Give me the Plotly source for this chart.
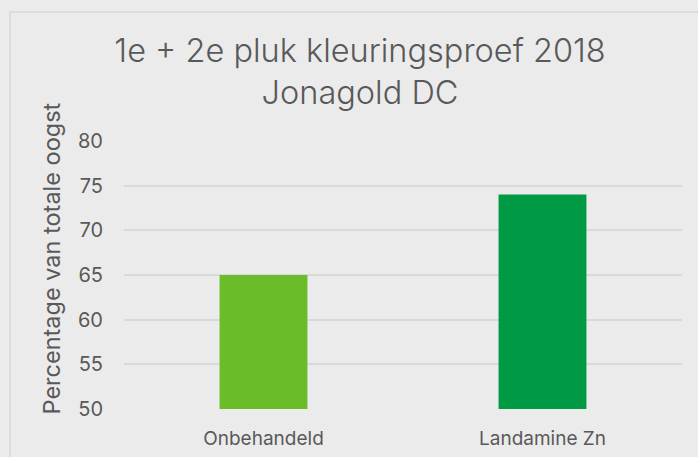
import plotly.graph_objects as go

categories = ["Onbehandeld", "Landamine Zn"]
values = [65, 74]
bar_colors = ["#6ABD28", "#009A44"]
y_ticks = [50, 55, 60, 65, 70, 75, 80]

FONT = "Inter"
TXT = "#595959"

fig = go.Figure()
fig.add_trace(go.Bar(x=categories, y=values, marker=dict(color=bar_colors, line=dict(width=0)),
                     hoverinfo="x+y"))

W, H = 698, 457
L, R, T, B = 124, 16, 141, 48
pw = W - L - R
ph = H - T - B

fig.update_layout(
    width=W, height=H,
    margin=dict(l=L, r=R, t=T, b=B, pad=0, autoexpand=False),
    paper_bgcolor="#EBEBEB",
    plot_bgcolor="#EBEBEB",
    bargap=0.685,
    showlegend=False,
    font=dict(family=FONT, color=TXT),
    title=dict(
        text="1e + 2e pluk kleuringsproef 2018<br>Jonagold DC",
        font=dict(family=FONT, size=32.5, color=TXT, weight=300),
        x=360 / W, xanchor="center", xref="container",
        y=1 - 62 / H, yanchor="middle", yref="container",
    ),
    xaxis=dict(
        showgrid=False, zeroline=False, showline=False, automargin=False,
        tickfont=dict(family=FONT, size=19, color=TXT),
        ticks="", ticklabelstandoff=16,
    ),
    yaxis=dict(
        range=[50, 80], tickvals=y_ticks, automargin=False,
        showgrid=True, gridcolor="#D9D9D9", gridwidth=1.5,
        zeroline=False, showline=False, ticks="",
        tickfont=dict(family=FONT, size=20, color=TXT),
        ticklabelstandoff=20,
    ),
    annotations=[dict(
        text="Percentage van totale oogst", textangle=-90,
        xref="paper", yref="paper",
        x=(51 - L) / pw, y=(H - B - 258.5) / ph,
        xanchor="center", yanchor="middle", showarrow=False,
        font=dict(family=FONT, size=23.5, color=TXT),
    )],
    shapes=[dict(
        type="rect", xref="paper", yref="paper", layer="below",
        x0=(10 - L) / pw, x1=(W + 20 - L) / pw,
        y0=(H - B - (H + 20)) / ph, y1=(H - B - 12) / ph,
        line=dict(color="#DCDCDC", width=2), fillcolor="rgba(0,0,0,0)",
    )],
)

fig.write_html("out.html", config={"displayModeBar": False},
               post_script="document.body.style.margin='0';document.body.style.background='#EBEBEB';")
